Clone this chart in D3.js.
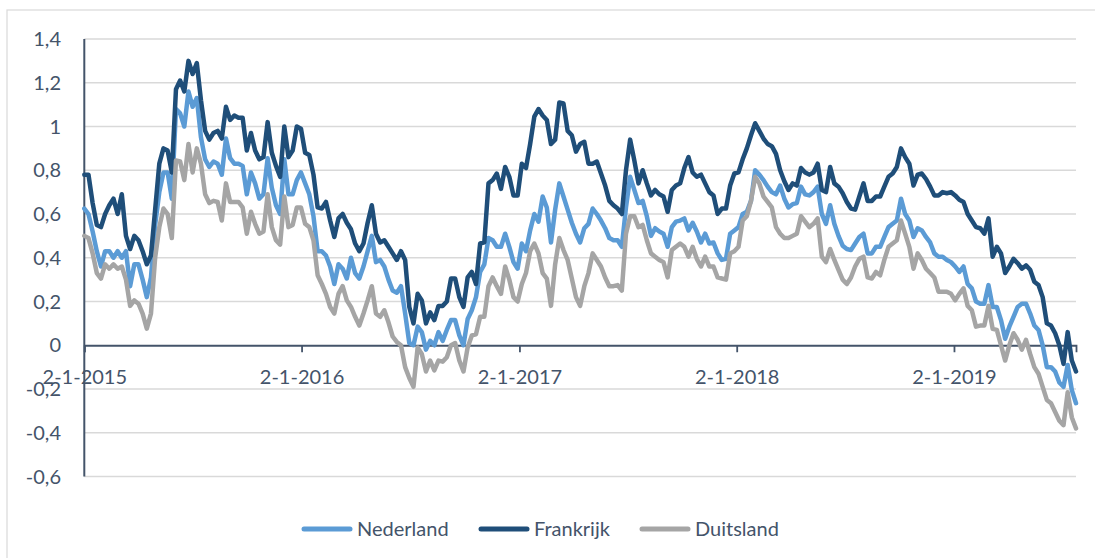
<!DOCTYPE html>
<html>
<head>
<meta charset="utf-8">
<script src="https://cdn.jsdelivr.net/npm/d3@7/dist/d3.min.js"></script>
<style>
    body { margin: 0; background: #fff; }
    svg { display: block; font-family: Lato, "Open Sans", sans-serif; }
    .grid line { stroke: #d9d9d9; stroke-width: 1.5; }
    .tick-label { fill: #44546a; font-size: 20px; }
    .legend text { fill: #44546a; font-size: 20px; }
</style>
</head>
<body>
<svg id="chart" width="1095" height="558"></svg>
<script>
// weekly series, first week 2-1-2015
var startDate = new Date(2015, 0, 2);

var seriesNames = ['Nederland', 'Frankrijk', 'Duitsland'];
var seriesColors = ['#5b9bd5', '#1f4e79', '#a5a5a5'];

var nederland = [
    0.625, 0.60, 0.52, 0.43, 0.36, 0.43, 0.43, 0.40, 0.43, 0.40,
    0.43, 0.27, 0.37, 0.37, 0.30, 0.22, 0.31, 0.55, 0.70, 0.79,
    0.79, 0.67, 1.08, 1.06, 1.00, 1.16, 1.09, 1.13, 0.95, 0.85,
    0.815, 0.84, 0.83, 0.78, 0.945, 0.855, 0.83, 0.83, 0.82, 0.69,
    0.79, 0.74, 0.67, 0.69, 0.855, 0.72, 0.64, 0.60, 0.85, 0.69,
    0.69, 0.755, 0.79, 0.74, 0.69, 0.59, 0.43, 0.43, 0.41, 0.36,
    0.28, 0.37, 0.35, 0.305, 0.40, 0.33, 0.305, 0.36, 0.43, 0.50,
    0.38, 0.39, 0.36, 0.30, 0.25, 0.24, 0.27, 0.145, 0.01, 0.0,
    0.085, 0.06, -0.02, 0.02, 0.0, 0.06, 0.02, 0.07, 0.115, 0.115,
    0.045, 0.0, 0.12, 0.16, 0.22, 0.335, 0.37, 0.49, 0.48, 0.45,
    0.45, 0.51, 0.45, 0.38, 0.35, 0.465, 0.43, 0.525, 0.60, 0.565,
    0.68, 0.63, 0.47, 0.62, 0.74, 0.68, 0.62, 0.56, 0.51, 0.47,
    0.535, 0.555, 0.625, 0.60, 0.57, 0.535, 0.49, 0.48, 0.48, 0.45,
    0.63, 0.77, 0.71, 0.65, 0.66, 0.59, 0.50, 0.535, 0.52, 0.51,
    0.45, 0.54, 0.565, 0.57, 0.58, 0.525, 0.56, 0.52, 0.47, 0.51,
    0.465, 0.47, 0.42, 0.39, 0.395, 0.51, 0.525, 0.54, 0.60, 0.61,
    0.66, 0.80, 0.78, 0.755, 0.725, 0.70, 0.69, 0.73, 0.67, 0.63,
    0.645, 0.65, 0.725, 0.69, 0.685, 0.70, 0.725, 0.60, 0.555, 0.64,
    0.555, 0.50, 0.455, 0.44, 0.435, 0.465, 0.495, 0.51, 0.42, 0.42,
    0.45, 0.45, 0.495, 0.54, 0.555, 0.57, 0.67, 0.60, 0.57, 0.495,
    0.535, 0.525, 0.495, 0.47, 0.42, 0.405, 0.405, 0.39, 0.38, 0.36,
    0.335, 0.36, 0.28, 0.26, 0.20, 0.19, 0.19, 0.275, 0.175, 0.175,
    0.115, 0.03, 0.085, 0.13, 0.175, 0.19, 0.19, 0.145, 0.09, 0.07,
    0.0, -0.10, -0.10, -0.12, -0.17, -0.19, -0.09, -0.205, -0.265
];

var frankrijk = [
    0.78, 0.78, 0.65, 0.55, 0.54, 0.60, 0.64, 0.67, 0.60, 0.69,
    0.50, 0.44, 0.50, 0.48, 0.43, 0.37, 0.41, 0.62, 0.83, 0.90,
    0.89, 0.79, 1.17, 1.21, 1.16, 1.30, 1.24, 1.29, 1.12, 0.98,
    0.94, 0.97, 0.98, 0.945, 1.09, 1.03, 1.05, 1.04, 1.04, 0.89,
    0.97, 0.89, 0.85, 0.86, 1.02, 0.88, 0.82, 0.77, 1.00, 0.86,
    0.89, 1.00, 0.99, 0.88, 0.87, 0.78, 0.63, 0.625, 0.655, 0.57,
    0.495, 0.58, 0.60, 0.56, 0.53, 0.465, 0.43, 0.465, 0.56, 0.64,
    0.51, 0.47, 0.48, 0.45, 0.42, 0.39, 0.43, 0.39, 0.175, 0.10,
    0.235, 0.205, 0.10, 0.15, 0.115, 0.18, 0.18, 0.20, 0.305, 0.305,
    0.22, 0.175, 0.31, 0.335, 0.28, 0.465, 0.47, 0.74, 0.755, 0.785,
    0.715, 0.815, 0.77, 0.685, 0.685, 0.83, 0.81, 0.92, 1.045, 1.08,
    1.05, 1.03, 0.92, 0.94, 1.11, 1.105, 0.98, 0.96, 0.885, 0.92,
    0.93, 0.83, 0.83, 0.84, 0.785, 0.73, 0.66, 0.64, 0.625, 0.60,
    0.80, 0.94, 0.845, 0.74, 0.80, 0.74, 0.685, 0.71, 0.69, 0.68,
    0.61, 0.71, 0.73, 0.74, 0.81, 0.86, 0.79, 0.77, 0.78, 0.74,
    0.70, 0.685, 0.60, 0.625, 0.625, 0.73, 0.785, 0.79, 0.85, 0.90,
    0.96, 1.015, 0.98, 0.945, 0.92, 0.91, 0.875, 0.80, 0.75, 0.71,
    0.74, 0.73, 0.81, 0.79, 0.78, 0.79, 0.83, 0.71, 0.70, 0.815,
    0.74, 0.725, 0.695, 0.655, 0.625, 0.62, 0.68, 0.74, 0.66, 0.66,
    0.68, 0.68, 0.725, 0.77, 0.785, 0.815, 0.90, 0.86, 0.83, 0.73,
    0.78, 0.785, 0.76, 0.725, 0.685, 0.685, 0.70, 0.695, 0.70, 0.685,
    0.665, 0.655, 0.60, 0.57, 0.54, 0.535, 0.51, 0.58, 0.405, 0.45,
    0.42, 0.33, 0.36, 0.395, 0.375, 0.35, 0.365, 0.345, 0.29, 0.275,
    0.22, 0.10, 0.09, 0.055, 0.0, -0.085, 0.06, -0.07, -0.12
];

var duitsland = [
    0.50, 0.49, 0.42, 0.33, 0.305, 0.37, 0.35, 0.37, 0.35, 0.36,
    0.30, 0.18, 0.205, 0.19, 0.145, 0.076, 0.145, 0.40, 0.54, 0.625,
    0.60, 0.49, 0.845, 0.84, 0.755, 0.92, 0.79, 0.90, 0.83, 0.69,
    0.65, 0.66, 0.655, 0.57, 0.74, 0.655, 0.655, 0.655, 0.63, 0.51,
    0.61, 0.555, 0.51, 0.52, 0.69, 0.54, 0.48, 0.46, 0.68, 0.54,
    0.55, 0.63, 0.63, 0.555, 0.54, 0.48, 0.32, 0.28, 0.235, 0.175,
    0.145, 0.235, 0.27, 0.205, 0.175, 0.13, 0.09, 0.145, 0.205, 0.27,
    0.145, 0.13, 0.16, 0.105, 0.04, 0.015, 0.0, -0.10, -0.15, -0.19,
    -0.01, -0.04, -0.12, -0.07, -0.115, -0.07, -0.075, -0.055, 0.0, 0.01,
    -0.07, -0.12, -0.01, 0.045, 0.05, 0.13, 0.13, 0.27, 0.31, 0.27,
    0.235, 0.36, 0.30, 0.22, 0.20, 0.28, 0.33, 0.43, 0.465, 0.42,
    0.33, 0.305, 0.18, 0.37, 0.49, 0.435, 0.39, 0.305, 0.22, 0.18,
    0.27, 0.33, 0.42, 0.39, 0.36, 0.31, 0.27, 0.27, 0.275, 0.25,
    0.51, 0.59, 0.59, 0.54, 0.55, 0.48, 0.42, 0.405, 0.39, 0.38,
    0.31, 0.435, 0.45, 0.465, 0.45, 0.405, 0.45, 0.395, 0.36, 0.405,
    0.36, 0.36, 0.31, 0.305, 0.30, 0.42, 0.43, 0.45, 0.57, 0.59,
    0.66, 0.77, 0.74, 0.68, 0.655, 0.63, 0.54, 0.51, 0.49, 0.49,
    0.50, 0.51, 0.59, 0.565, 0.54, 0.555, 0.58, 0.405, 0.38, 0.44,
    0.39, 0.345, 0.30, 0.28, 0.31, 0.36, 0.395, 0.405, 0.31, 0.305,
    0.335, 0.32, 0.39, 0.45, 0.465, 0.48, 0.57, 0.51, 0.45, 0.35,
    0.42, 0.39, 0.35, 0.33, 0.31, 0.245, 0.245, 0.245, 0.235, 0.205,
    0.235, 0.26, 0.18, 0.16, 0.085, 0.09, 0.09, 0.18, 0.075, 0.07,
    0.0, -0.07, 0.0, 0.055, 0.025, -0.02, 0.025, -0.04, -0.10, -0.13,
    -0.19, -0.25, -0.265, -0.305, -0.345, -0.365, -0.215, -0.33, -0.38
];

var yTicks = [-0.6, -0.4, -0.2, 0, 0.2, 0.4, 0.6, 0.8, 1, 1.2, 1.4];
var xTickDates = [new Date(2015, 0, 2), new Date(2016, 0, 2), new Date(2017, 0, 2),
    new Date(2018, 0, 2), new Date(2019, 0, 2)];

var dates = d3.range(nederland.length).map(function (i) {
    return d3.timeDay.offset(startDate, 7 * i);
});
var allSeries = [nederland, frankrijk, duitsland];

var svg = d3.select('#chart');

// chart outline (runs off the right/bottom of the picture)
svg.append('rect')
    .attr('x', 7).attr('y', 10).attr('width', 1100).attr('height', 560)
    .attr('fill', 'none').attr('stroke', '#d9d9d9').attr('stroke-width', 1.2);

var x = d3.scaleTime().domain([dates[0], dates[dates.length - 1]]).range([84.3, 1076]);
var y = d3.scaleLinear().domain([-0.6, 1.4]).range([476.5, 39]);

var nl = d3.formatLocale({decimal: ',', thousands: '.', grouping: [3], currency: ['€', ''], minus: '-'});
var fmtY = function (v) { return nl.format('~g')(+v.toFixed(1)); };
var fmtX = d3.timeFormat('%-d-%-m-%Y');

// gridlines
svg.append('g').attr('class', 'grid')
    .selectAll('line').data(yTicks.filter(function (v) { return v !== 0; })).enter()
    .append('line')
    .attr('x1', x.range()[0]).attr('x2', x.range()[1])
    .attr('y1', function (v) { return y(v); })
    .attr('y2', function (v) { return y(v); });

// y tick labels
svg.append('g').selectAll('text').data(yTicks).enter()
    .append('text').attr('class', 'tick-label')
    .attr('x', 61).attr('y', function (v) { return y(v); })
    .attr('dy', '0.35em').attr('text-anchor', 'end')
    .text(fmtY);

// x axis on the zero line
var xAxis = d3.axisBottom(x).tickValues(xTickDates).tickFormat(fmtX).tickSizeOuter(0).tickSize(7).tickPadding(18);
var gx = svg.append('g').attr('transform', 'translate(0,' + y(0) + ')').call(xAxis);
gx.select('.domain').attr('stroke', '#44546a').attr('stroke-width', 1.8);
gx.selectAll('.tick line').attr('stroke', '#44546a').attr('stroke-width', 1.8);
gx.selectAll('.tick text').attr('class', 'tick-label').attr('font-size', null).attr('font-family', null)
    .attr('fill', null);
gx.attr('font-size', null).attr('font-family', null);

// y axis line
svg.append('line')
    .attr('x1', x.range()[0]).attr('x2', x.range()[0])
    .attr('y1', y(1.4)).attr('y2', y(-0.6))
    .attr('stroke', '#44546a').attr('stroke-width', 2);

// series
var line = d3.line()
    .x(function (d, i) { return x(dates[i]); })
    .y(function (d) { return y(d); });

svg.append('g').selectAll('path').data(allSeries).enter()
    .append('path')
    .attr('d', line)
    .attr('fill', 'none')
    .attr('stroke', function (d, i) { return seriesColors[i]; })
    .attr('stroke-width', 4.5)
    .attr('stroke-linejoin', 'round')
    .attr('stroke-linecap', 'round');

// legend
var legendX = [302, 479, 640];
var lg = svg.append('g').attr('class', 'legend')
    .selectAll('g').data(seriesNames).enter()
    .append('g').attr('transform', function (d, i) { return 'translate(' + legendX[i] + ',529)'; });
lg.append('line')
    .attr('x1', 2).attr('x2', 48)
    .attr('stroke', function (d, i) { return seriesColors[i]; })
    .attr('stroke-width', 5).attr('stroke-linecap', 'round');
lg.append('text').attr('x', 55).attr('dy', '0.35em').text(function (d) { return d; });
</script>
</body>
</html>
